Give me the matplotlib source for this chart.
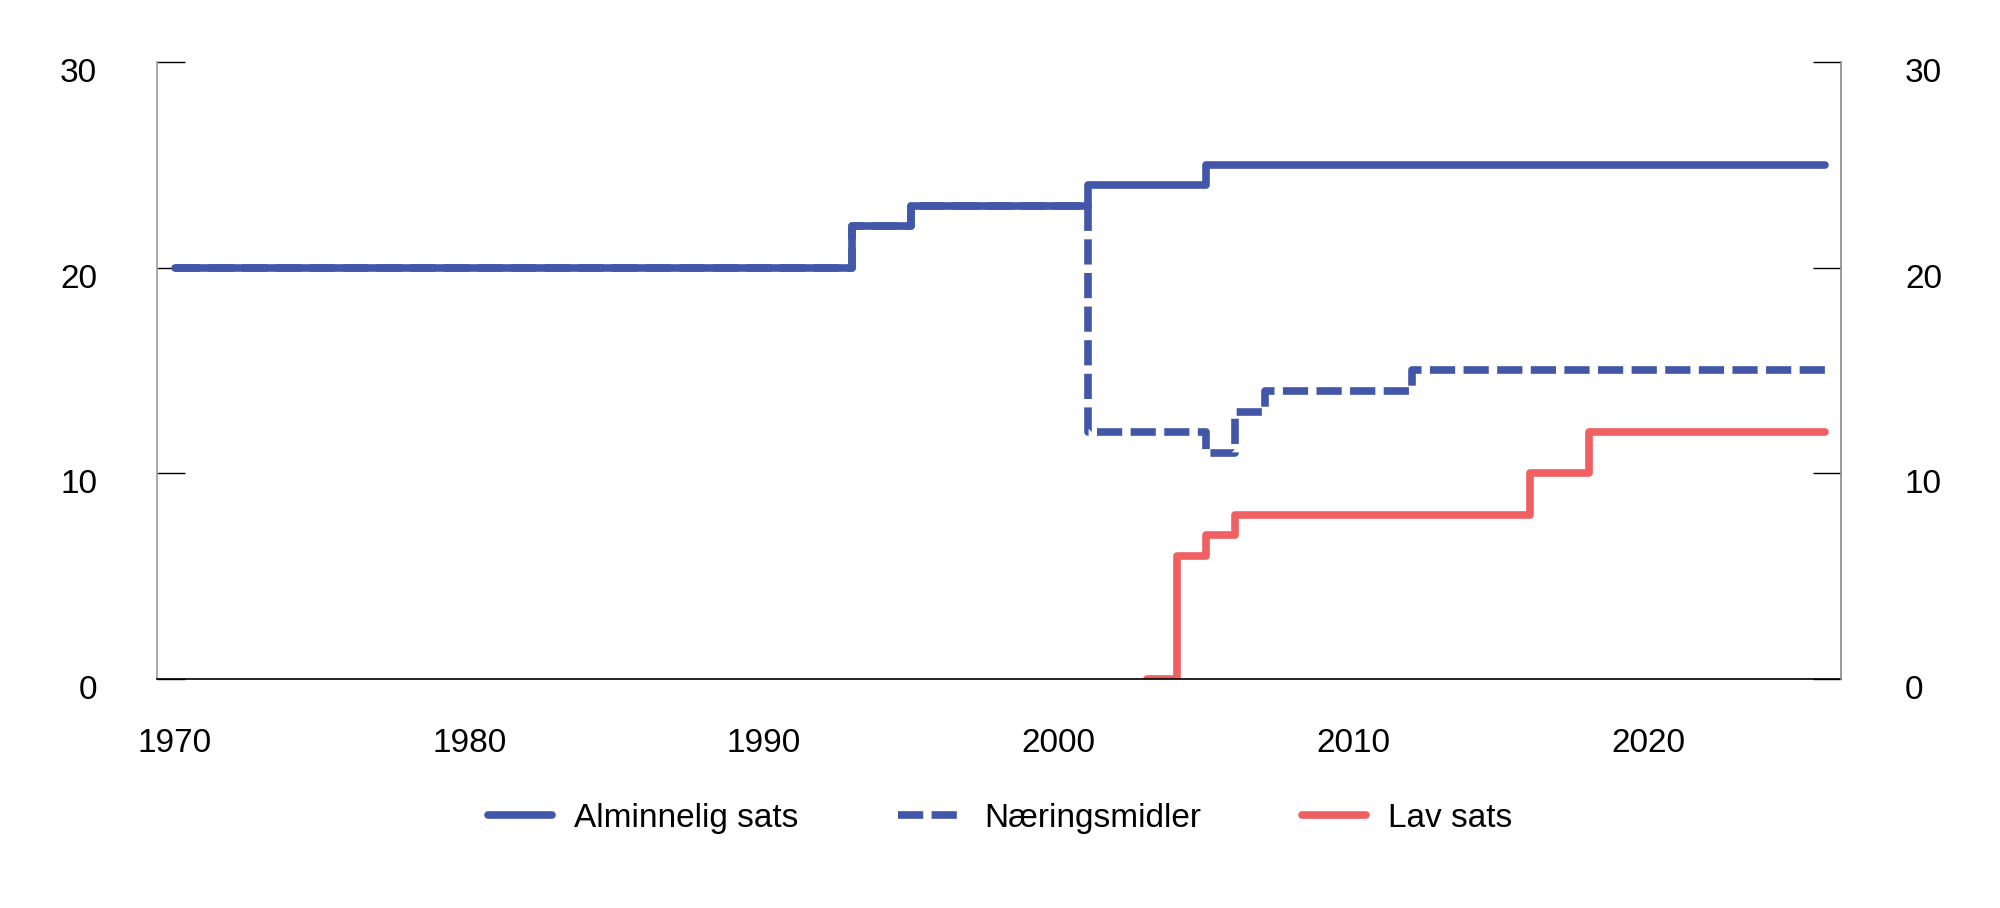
import matplotlib
matplotlib.use("Agg")
import matplotlib.pyplot as plt
from matplotlib.transforms import ScaledTranslation

# Merverdiavgiftssatser (prosent)
alminnelig_years = [1970, 1993, 1995, 2001, 2005, 2026]
alminnelig_vals = [20, 22, 23, 24, 25, 25]

naering_years = [1970, 1993, 1995, 2001, 2005, 2006, 2007, 2012, 2026]
naering_vals = [20, 22, 23, 12, 11, 13, 14, 15, 15]

lav_years = [2003, 2004, 2005, 2006, 2016, 2018, 2026]
lav_vals = [0, 6, 7, 8, 10, 12, 12]

y_ticks = [0, 10, 20, 30]
x_ticks = [1970, 1980, 1990, 2000, 2010, 2020]

BLUE = "#4257a7"
RED = "#f05f62"

plt.rcParams["font.family"] = "Liberation Sans"


def style_right_axis(ax2):
    ax2.set_ylim(0, 30)
    ax2.set_yticks(y_ticks)
    for side in ["top", "left", "bottom"]:
        ax2.spines[side].set_visible(False)
    ax2.spines["right"].set_color("#999999")
    ax2.spines["right"].set_linewidth(1.2)
    ax2.tick_params(axis="y", direction="in", length=20, width=1, color="black",
                    labelsize=24, pad=46)


def main():
    fig = plt.figure(figsize=(20, 9.08), dpi=100)
    ax = fig.add_axes([0.0785, 0.252, 0.842, 0.68])

    ax.plot(alminnelig_years, alminnelig_vals, drawstyle="steps-post",
            color=BLUE, lw=5.5, solid_capstyle="round", solid_joinstyle="round",
            label="Alminnelig sats")
    ax.plot(naering_years, naering_vals, drawstyle="steps-post",
            color=BLUE, lw=5.5, ls=(0, (3.3, 1.1)), dash_capstyle="butt",
            label="Næringsmidler")
    ax.plot(lav_years, lav_vals, drawstyle="steps-post",
            color=RED, lw=5.5, solid_capstyle="round", solid_joinstyle="round",
            label="Lav sats")

    ax.set_xlim(1969.4, 2026.55)
    ax.set_ylim(0, 30)
    ax.set_xticks(x_ticks)
    ax.set_yticks(y_ticks)

    ax.spines["top"].set_visible(False)
    ax.spines["left"].set_color("#999999")
    ax.spines["right"].set_color("#999999")
    ax.spines["bottom"].set_color("black")
    for side in ["left", "right", "bottom"]:
        ax.spines[side].set_linewidth(1.2)

    ax.tick_params(axis="y", direction="in", length=20, width=1, color="black",
                   labelsize=24, pad=43)
    ax.tick_params(axis="x", length=0, labelsize=24, pad=35)

    ax2 = ax.twinx()
    style_right_axis(ax2)

    # y labels sit a little below their ticks in the original
    shift = ScaledTranslation(0, -0.08, fig.dpi_scale_trans)
    for lab in ax.get_yticklabels() + ax2.get_yticklabels():
        lab.set_transform(lab.get_transform() + shift)

    handles, labels = ax.get_legend_handles_labels()
    fig.legend(handles, labels, loc="center", bbox_to_anchor=(0.5, 0.099),
               ncol=3, frameon=False, handlelength=1.93, handletextpad=0.66,
               columnspacing=3.0, prop={"size": 24})

    fig.savefig("out.png", dpi=100)


if __name__ == "__main__":
    main()
